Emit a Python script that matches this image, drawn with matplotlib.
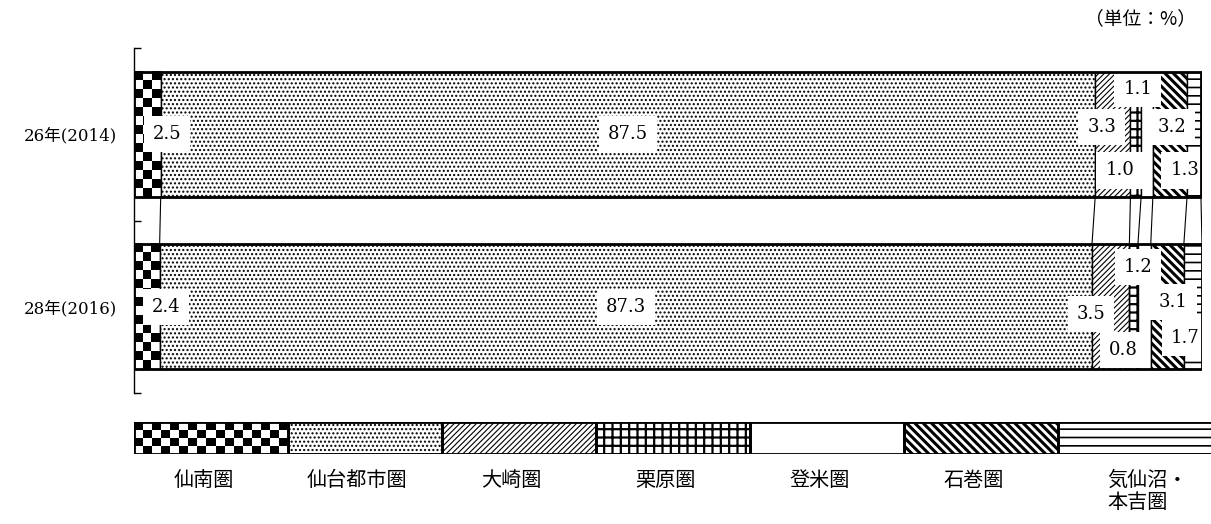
import numpy as np
import matplotlib
matplotlib.use("Agg")
import matplotlib.pyplot as plt

plt.rcParams['font.family'] = ['DejaVu Serif', 'Noto Sans CJK JP']

years = ['26年(2014)', '28年(2016)']
regions = ['仙南圏', '仙台都市圏', '大崎圏', '栗原圏', '登米圏', '石巻圏', '気仙沼・\n本吉圏']
share_2014 = [2.5, 87.5, 3.3, 1.0, 1.1, 3.2, 1.3]
share_2016 = [2.4, 87.3, 3.5, 0.8, 1.2, 3.1, 1.7]

# fill pattern per region ('checker' is drawn as an image)
hatches = ['checker', '....', '//////', '++', '', '\\' * 4, '--']
hatch_lw = [1.0, 1.0, 0.8, 1.6, 1.0, 2.2, 1.2]

# nudges for the value labels (dx in %, dy in bar units) so small ones don't collide
nudge_2014 = [(1.85, 0), (0, 0), (-1.05, 0.04), (-1.5, -0.21), (-0.85, 0.26), (0.2, 0.04), (-0.85, -0.21)]
nudge_2016 = [(1.8, 0), (0, 0), (-1.85, -0.04), (-1.0, -0.25), (-0.6, 0.23), (0.55, 0.03), (-0.75, -0.18)]

W, H = 1211, 524
fig = plt.figure(figsize=(W / 100, H / 100), dpi=100)


def set_hatch_lw(patches, lw):
    for p in patches:
        if hasattr(p, 'set_hatch_linewidth'):
            p.set_hatch_linewidth(lw)


def checker(ax, x0, x1, y0, y1, cell=9):
    p0 = ax.transData.transform((x0, y0))
    p1 = ax.transData.transform((x1, y1))
    ncols = max(1, int(round(abs(p1[0] - p0[0]) / cell)))
    nrows = max(1, int(round(abs(p1[1] - p0[1]) / cell)))
    arr = 1 - np.add.outer(np.arange(nrows), np.arange(ncols)) % 2
    ax.imshow(arr, extent=(x0, x1, y0, y1), cmap='gray_r', vmin=0, vmax=1,
              interpolation='nearest', aspect='auto', zorder=1)


def segment(ax, y, w, left, h, i, horizontal=True):
    if hatches[i] == 'checker':
        if horizontal:
            checker(ax, left, left + w, y - h / 2, y + h / 2)
            ax.barh(y, w, left=left, height=h, fill=False, edgecolor='black', lw=1, zorder=2)
        else:
            checker(ax, y - w / 2, y + w / 2, left, left + h)
            ax.bar(y, h, bottom=left, width=w, fill=False, edgecolor='black', lw=1, zorder=2)
        return
    plt.rcParams['hatch.linewidth'] = hatch_lw[i]
    if horizontal:
        b = ax.barh(y, w, left=left, height=h, facecolor='white', edgecolor='black',
                    hatch=hatches[i], lw=1, zorder=2)
    else:
        b = ax.bar(y, h, bottom=left, width=w, facecolor='white', edgecolor='black',
                   hatch=hatches[i], lw=1, zorder=2)
    set_hatch_lw(b, hatch_lw[i])


# main bars
ax = fig.add_axes([134 / W, 1 - 393 / H, (1202 - 134) / W, 345 / H])
ax.set_xlim(0, 100)
ax.set_ylim(0, 2)
bar_y = [1.5, 0.5]
bar_h = 0.725

for yc, vals, nudges in zip(bar_y, [share_2014, share_2016], [nudge_2014, nudge_2016]):
    lefts = np.concatenate([[0], np.cumsum(vals)[:-1]])
    for i, (l, w) in enumerate(zip(lefts, vals)):
        segment(ax, yc, w, l, bar_h, i)
        dx, dy = nudges[i]
        ax.text(l + w / 2 + dx, yc + dy, f'{w:.1f}', ha='center', va='center', fontsize=13,
                bbox=dict(boxstyle='square,pad=0.5', fc='white', ec='none'), zorder=4)
    ax.barh(yc, sum(vals), height=bar_h, fill=False, edgecolor='black', lw=2, zorder=5)

# lines joining the segment boundaries of the two bars
for a, b in zip(np.cumsum(share_2014), np.cumsum(share_2016)):
    ax.plot([a, b], [bar_y[0] - bar_h / 2, bar_y[1] + bar_h / 2], color='black', lw=0.8, zorder=3)

for s in ['top', 'right', 'bottom']:
    ax.spines[s].set_visible(False)
ax.spines['left'].set_linewidth(1)
ax.set_xticks([])
ax.set_yticks([0, 1, 2])
ax.set_yticklabels([])
ax.tick_params(axis='y', which='major', direction='in', length=5, width=1)
ax.set_yticks(bar_y, minor=True)
ax.set_yticklabels(years, minor=True, fontsize=12)
ax.tick_params(axis='y', which='minor', length=0, pad=12)

fig.text(1196 / W, 1 - 19 / H, '（単位：%）', ha='right', va='center', fontsize=13.5,
         family=['Noto Sans CJK JP'])

# pattern key
lax = fig.add_axes([134 / W, 1 - 454 / H, 1078 / W, 32 / H])
lax.set_xlim(0, 7)
lax.set_ylim(0, 1)
lax.axis('off')
for i, name in enumerate(regions):
    segment(lax, i + 0.5, 1, 0, 1, i, horizontal=False)
    lax.bar(i + 0.5, 1, width=1, fill=False, edgecolor='black', lw=2, zorder=5)
    if i == len(regions) - 1:
        lax.text(i + 0.58, -0.5, name, ha='center', va='top', multialignment='left',
                 fontsize=14.5, family=['Noto Sans CJK JP'], linespacing=1.05, clip_on=False)
    else:
        lax.text(i + 0.45, -0.5, name, ha='center', va='top',
                 fontsize=14.5, family=['Noto Sans CJK JP'], clip_on=False)

plt.savefig("out.png", dpi=100)
plt.close()
